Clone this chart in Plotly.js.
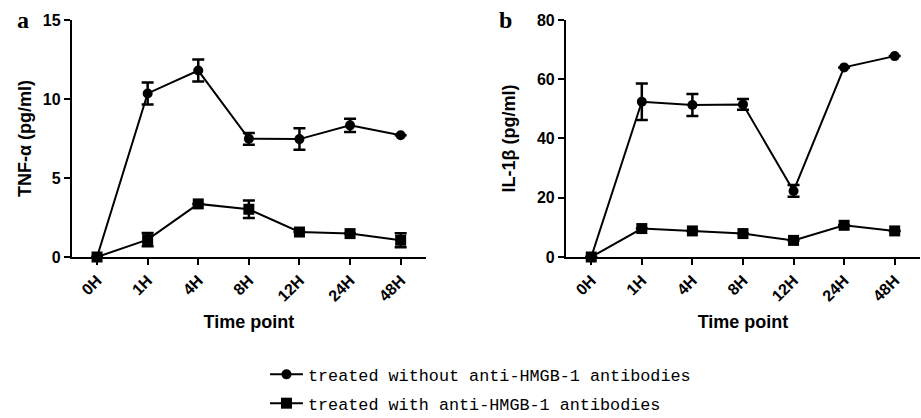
<!DOCTYPE html>
<html>
<head>
<meta charset="utf-8">
<script src="https://cdn.plot.ly/plotly-3.0.1.min.js"></script>
<style>html,body{margin:0;padding:0;background:#fff;}#chart{width:921px;height:418px;}</style>
</head>
<body>
<div id="chart"></div>
<script>
const timePoints = ['0H', '1H', '4H', '8H', '12H', '24H', '48H'];
const tnfWithout = [0, 10.35, 11.8, 7.48, 7.46, 8.33, 7.7];
const tnfWithoutErr = [null, 0.7, 0.7, 0.37, 0.68, 0.42, null];
const tnfWith = [0, 1.1, 3.36, 3.02, 1.58, 1.48, 1.06];
const tnfWithErr = [null, 0.42, null, 0.55, null, null, 0.45];
const il1Without = [0, 52.4, 51.3, 51.5, 22.3, 64.0, 67.8];
const il1WithoutErr = [null, 6.2, 3.7, 1.8, 2.0, null, null];
const il1With = [0, 9.6, 8.8, 7.9, 5.6, 10.7, 8.8];
const il1WithErr = [null, null, null, null, null, null, null];
const seriesNames = ['treated without anti-HMGB-1 antibodies', 'treated with anti-HMGB-1 antibodies'];

const tickFont = {family: 'Liberation Sans, Arial, sans-serif', size: 16, color: '#000', weight: 700};
const titleFont = {family: 'Liberation Sans, Arial, sans-serif', size: 18, color: '#000', weight: 700};

function mk(x, y, err, name, symbol, xa, ya, show, group) {
  return {
    type: 'scatter', mode: 'lines+markers', x: x, y: y, name: name,
    xaxis: xa, yaxis: ya, showlegend: show, legendgroup: group,
    cliponaxis: false,
    line: {color: '#000', width: 2},
    marker: {symbol: symbol, size: symbol === 'square' ? 11 : 10, color: '#000'},
    error_y: {type: 'data', array: err, visible: true, color: '#000', thickness: 2.5, width: 6}
  };
}

const data = [
  mk(timePoints, tnfWithout, tnfWithoutErr, seriesNames[0], 'circle', 'x', 'y', true, 'g1'),
  mk(timePoints, tnfWith, tnfWithErr, seriesNames[1], 'square', 'x', 'y', true, 'g2'),
  mk(timePoints, il1Without, il1WithoutErr, seriesNames[0], 'circle', 'x2', 'y2', false, 'g1'),
  mk(timePoints, il1With, il1WithErr, seriesNames[1], 'square', 'x2', 'y2', false, 'g2')
];

function xaxis(domain, anchor) {
  return {
    domain: domain, anchor: anchor, type: 'category', range: [-0.5, 6.5],
    showline: true, linewidth: 2, linecolor: '#000', showgrid: false, zeroline: false,
    ticks: 'outside', ticklen: 6, tickwidth: 2, tickcolor: '#000',
    tickangle: -45, tickfont: tickFont, automargin: false,
    title: {text: 'Time point', font: titleFont, standoff: 12}
  };
}
function yaxis(domain, anchor, range, dtick, title, standoff) {
  return {
    domain: domain, anchor: anchor, range: range, dtick: dtick, tick0: 0,
    showline: true, linewidth: 2, linecolor: '#000', showgrid: false, zeroline: false,
    ticks: 'outside', ticklen: 6, tickwidth: 2, tickcolor: '#000',
    tickfont: tickFont, automargin: false,
    title: {text: title, font: titleFont, standoff: standoff}
  };
}

const layout = {
  width: 921, height: 418,
  margin: {l: 0, r: 0, t: 0, b: 0, autoexpand: false},
  paper_bgcolor: '#fff', plot_bgcolor: '#fff',
  showlegend: true,
  xaxis: xaxis([0.0779, 0.4625], 'y'),
  yaxis: yaxis([0.3852, 0.9522], 'x', [0, 15], 5, 'TNF-α (pg/ml)', 6.5),
  xaxis2: xaxis([0.6145, 0.9989], 'y2'),
  yaxis2: yaxis([0.3852, 0.9522], 'x2', [0, 80], 20, 'IL-1β (pg/ml)', 17),
  legend: {
    x: 0.2877, y: -0.007, xanchor: 'left', yanchor: 'bottom',
    traceorder: 'grouped', tracegroupgap: 4, itemwidth: 33,
    font: {family: 'Liberation Mono, monospace', size: 16.8, color: '#000'},
    bgcolor: 'rgba(0,0,0,0)', borderwidth: 0
  },
  annotations: [
    {text: 'a', xref: 'paper', yref: 'paper', x: 22.5 / 921, y: 1 - 20 / 418, xanchor: 'center', yanchor: 'middle',
     showarrow: false, font: {family: 'Liberation Serif, Times New Roman, serif', size: 24, color: '#000', weight: 700}},
    {text: 'b', xref: 'paper', yref: 'paper', x: 505 / 921, y: 1 - 20 / 418, xanchor: 'center', yanchor: 'middle',
     showarrow: false, font: {family: 'Liberation Serif, Times New Roman, serif', size: 24, color: '#000', weight: 700}}
  ]
};

Plotly.newPlot('chart', data, layout, {displayModeBar: false, staticPlot: true});
</script>
</body>
</html>
